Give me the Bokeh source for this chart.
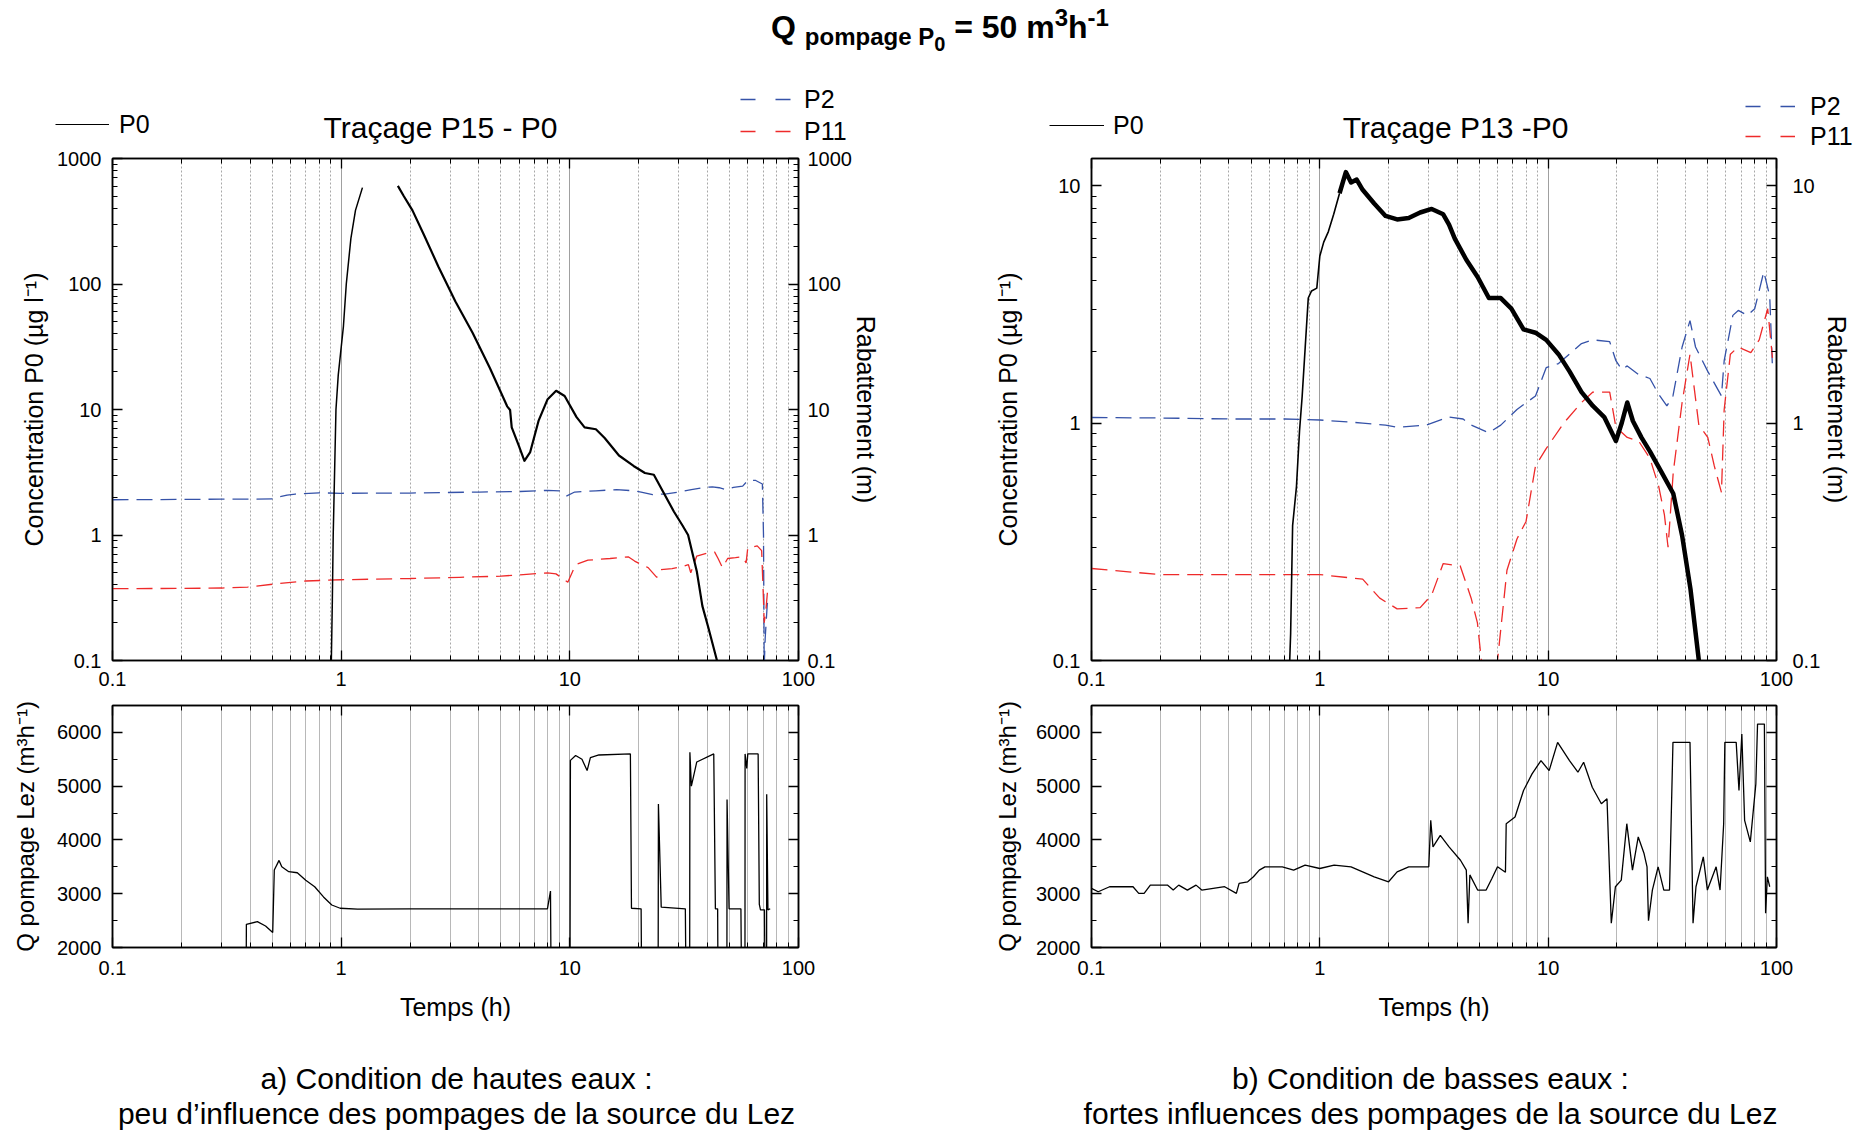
from bokeh.plotting import figure
from bokeh.models import (Range1d, LogAxis, LinearAxis, FixedTicker, CustomJSTickFormatter,
                          Label, Legend, LegendItem, Div, LogScale)
from bokeh.layouts import column, row
from bokeh.embed import file_html
from bokeh.resources import INLINE

nan = float("nan")
FONT = "Liberation Sans"

# ---------------- DATA ----------------
x_major = [0.1, 1, 10, 100]
x_minor = [0.2, 0.3, 0.4, 0.5, 0.6, 0.7, 0.8, 0.9, 2, 3, 4, 5, 6, 7, 8, 9, 20, 30, 40, 50, 60, 70, 80, 90]
conc_major_a = [0.1, 1, 10, 100, 1000]
conc_minor_a = [0.2, 0.3, 0.4, 0.5, 0.6, 0.7, 0.8, 0.9, 2, 3, 4, 5, 6, 7, 8, 9,
                20, 30, 40, 50, 60, 70, 80, 90, 200, 300, 400, 500, 600, 700, 800, 900]
conc_major_b = [0.1, 1, 10]
conc_minor_b = [0.2, 0.3, 0.4, 0.5, 0.6, 0.7, 0.8, 0.9, 2, 3, 4, 5, 6, 7, 8, 9]
q_major = [2000, 3000, 4000, 5000, 6000]
q_minor = [2500, 3500, 4500, 5500, 6500]

# a) hautes eaux - P0 concentration (ug/l)
t_p0_a = [0.905, 0.915, 0.923, 0.949, 0.971, 1.023, 1.053, 1.103, 1.155, 1.239, nan,
          1.77, 1.88, 2.05, 2.30, 2.66, 3.16, 3.76, 4.47, 5.32, 5.48, 5.57, 5.97, 6.33, 6.71,
          7.31, 7.98, 8.71, 9.49, 10.7, 11.6, 13.0, 14.2, 16.4, 19.0, 21.3, 23.3, 25.4, 28.5,
          31.1, 32.9, 35.9, 38.0, 40.3, 44.0, 45.0]
c_p0_a = [0.09, 0.3, 1.0, 10, 18.8, 46, 100, 231, 386, 586, nan,
          605, 500, 386, 247, 138, 72.6, 40.7, 21.4, 10.6, 9.9, 7.2, 5.2, 3.9, 4.58,
          8.2, 12.0, 14.1, 12.8, 8.7, 7.2, 6.96, 5.93, 4.3, 3.55, 3.12, 3.02, 2.26, 1.54,
          1.19, 1.0, 0.515, 0.271, 0.184, 0.1, 0.09]
# a) rabattement P2 (m)
t_p2_a = [0.1, 0.2, 0.3, 0.4, 0.5, 0.53, 0.58, 0.63, 0.8, 1.0, 2.0, 4.0, 6.0, 8.0, 9.0, 9.7,
          10.5, 13, 16, 19, 20.5, 23, 26, 30, 34, 38, 42, 45, 48, 52, 57, 60, 65, 69.5,
          70.3, 70.8, 71.5, 73.0, 74.0]
r_p2_a = [1.91, 1.92, 1.93, 1.93, 1.94, 2.0, 2.08, 2.12, 2.17, 2.15, 2.16, 2.2, 2.22, 2.27,
          2.25, 2.05, 2.2, 2.25, 2.3, 2.25, 2.2, 2.1, 2.12, 2.2, 2.3, 2.38, 2.42, 2.38, 2.3,
          2.4, 2.45, 2.72, 2.72, 2.55, 1.0, 0.09, 0.15, 0.28, 0.33]
# a) rabattement P11 (m)
t_p11_a = [0.1, 0.2, 0.3, 0.39, 0.53, 0.7, 1.0, 2.0, 3.3, 5.0, 8.0, 8.7, 9.3, 9.8, 10.6, 12,
           15, 18, 19.2, 20.6, 22, 24, 25, 28, 31, 33, 33.8, 35.9, 40, 43, 44.5, 46.5, 49,
           53, 57, 59, 60, 63, 66, 69, 70.3, 70.8, 72, 73.5]
r_p11_a = [0.374, 0.375, 0.378, 0.385, 0.41, 0.43, 0.44, 0.45, 0.46, 0.47, 0.50, 0.49, 0.45,
           0.42, 0.58, 0.63, 0.65, 0.67, 0.62, 0.58, 0.55, 0.46, 0.53, 0.54, 0.56, 0.58, 0.5,
           0.68, 0.72, 0.73, 0.65, 0.55, 0.65, 0.66, 0.67, 0.6, 0.79, 0.8, 0.82, 0.75, 0.3,
           0.2, 0.25, 0.39]
# a) Q pompage Lez (m3/h)
t_q_a = [0.383, 0.385, 0.43, 0.467, 0.502, 0.51, 0.535, 0.55, 0.59, 0.643, 0.70, 0.766,
         0.837, 0.91, 0.99, 1.18, 2.0, 4.0, 7.98, 8.23, 8.32, 10.0, 10.06, 10.6, 11.3, 11.9,
         12.3, 13.4, 18.4, 18.6, 20.5, 20.7, 24.3, 24.4, 25.1, 32.0, 32.4, 33.4, 33.5, 34.0,
         35.9, 42.6, 43.3, 44.3, 44.6, 48.6, 48.7, 49.7, 56.0, 56.7, 58.3, 58.4, 59.4, 60.0,
         66.6, 67.4, 68.2, 71.0, 71.8, 72.5, 72.6, 73.5, 75.2]
q_a = [0, 2430, 2480, 2400, 2280, 3440, 3620, 3500, 3410, 3390, 3250, 3130,
       2940, 2790, 2730, 2715, 2720, 2720, 2720, 3050, 0, 0, 5480, 5570, 5500, 5290,
       5530, 5580, 5600, 2730, 2720, 0, 0, 4670, 2750, 2720, 0, 0, 5630, 5000,
       5450, 5600, 2720, 2720, 0, 0, 4750, 2720, 2720, 0, 0, 5600, 5330, 5600,
       5600, 2800, 2700, 2700, 0, 0, 4850, 2700, 2720]

# b) basses eaux - P0 concentration (ug/l)
t_p0_b = [0.733, 0.738, 0.745, 0.76, 0.79, 0.815, 0.837, 0.863, 0.89, 0.92, 0.97, 1.0, 1.04,
          1.09, 1.15, 1.22, 1.30, 1.37, 1.45, 1.54, 1.73, 1.94, 2.18, 2.45, 2.75, 3.09, 3.47,
          3.68, 3.9, 4.38, 4.91, 5.5, 6.2, 6.9, 7.8, 8.8, 9.8, 11.1, 12.4, 14.0, 15.7, 17.6,
          19.8, 21.0, 22.2, 23.5, 25.6, 27.9, 31.4, 35.3, 38.6, 42.0, 45.7, 46.5]
c_p0_b = [0.09, 0.1, 0.13, 0.37, 0.54, 0.93, 1.30, 2.09, 3.36, 3.6, 3.7, 5.05, 5.78,
          6.4, 7.57, 9.28, 11.4, 10.3, 10.6, 9.6, 8.4, 7.45, 7.2, 7.3, 7.7, 7.97, 7.57,
          6.85, 5.98, 4.87, 4.12, 3.36, 3.36, 3.03, 2.48, 2.4, 2.24, 1.95, 1.65, 1.35, 1.18, 1.06,
          0.84, 1.0, 1.22, 1.02, 0.87, 0.76, 0.62, 0.505, 0.336, 0.2, 0.1, 0.09]
# b) rabattement P2 (m)
t_p2_b = [0.1, 0.2, 0.4, 0.7, 1.0, 1.54, 1.94, 2.18, 2.92, 3.68, 4.24, 4.6, 5.5, 6.2, 7.3,
          8.8, 9.8, 11.1, 12.4, 14.0, 15.7, 18.6, 19.8, 21.0, 22.2, 24.9, 27.9, 30.5, 33.1,
          35.2, 38.6, 41.8, 44.2, 50, 57.4, 59, 64.4, 68, 74.5, 80.3, 88, 93.4, 96]
r_p2_b = [1.055, 1.05, 1.04, 1.04, 1.03, 1.0, 0.98, 0.96, 0.98, 1.06, 1.04, 0.98, 0.91, 0.98,
          1.14, 1.30, 1.71, 1.78, 1.95, 2.16, 2.24, 2.2, 1.83, 1.68, 1.74, 1.6, 1.54, 1.32,
          1.18, 1.30, 2.09, 2.7, 2.09, 1.65, 1.30, 1.83, 2.84, 2.98, 2.84, 3.03, 4.34, 3.42, 1.71]
# b) rabattement P11 (m)
t_p11_b = [0.1, 0.2, 0.4, 0.7, 1.0, 1.54, 1.83, 2.18, 2.75, 3.09, 3.47, 4.12, 4.6, 4.9, 5.1,
           5.3, 5.8, 6.0, 6.6, 7.3, 8.0, 8.8, 9.8, 11.7, 14.0, 15.7, 18.6, 19.8, 22.2, 24.9,
           27.9, 30.5, 32.3, 33.5, 35.3, 38.6, 41.8, 45.7, 50, 53.4, 57.4, 59, 62.8, 68,
           77.2, 84, 91.5, 96]
r_p11_b = [0.244, 0.23, 0.23, 0.23, 0.23, 0.22, 0.183, 0.165, 0.167, 0.189, 0.256, 0.25,
           0.183, 0.144, 0.1, 0.08, 0.08, 0.1, 0.24, 0.325, 0.385, 0.66, 0.78, 1.0, 1.22,
           1.35, 1.35, 0.96, 0.87, 0.84, 0.71, 0.54, 0.41, 0.30, 0.62, 1.22, 1.95, 0.98,
           0.87, 0.66, 0.51, 1.14, 1.95, 2.09, 1.98, 2.24, 3.03, 1.88]
# b) Q pompage Lez (m3/h)
t_q_b = [0.1, 0.107, 0.120, 0.152, 0.161, 0.170, 0.181, 0.215, 0.228, 0.241, 0.263, 0.287,
         0.304, 0.383, 0.431, 0.443, 0.483, 0.512, 0.543, 0.575, 0.685, 0.768, 0.862, 1.0,
         1.155, 1.37, 1.54, 1.73, 2.0, 2.18, 2.45, 3.0, 3.06, 3.13, 3.37, 3.68, 4.13, 4.38,
         4.46, 4.54, 4.91, 5.35, 5.67, 6.0, 6.5, 6.55, 7.16, 7.8, 8.5, 9.3, 10.1, 11.0, 12.4,
         13.5, 14.3, 15.6, 17.1, 18.1, 18.9, 19.7, 20.9, 22.1, 23.4, 24.8, 26.3, 27.1, 27.5,
         28.6, 30.3, 32.1, 34.0, 35.2, 41.8, 43.1, 44.4, 47.8, 49.8, 54.4, 56.6, 58.7, 59.4,
         66.6, 68.5, 70.5, 72.5, 76.8, 81.2, 82.6, 88.5, 89.6, 91.2, 93.4]
q_b = [3099, 3037, 3130, 3130, 3006, 3006, 3160, 3160, 3068, 3160, 3068, 3160,
       3068, 3130, 3006, 3191, 3222, 3315, 3438, 3500, 3500, 3438, 3531, 3469,
       3531, 3500, 3407, 3315, 3222, 3407, 3500, 3500, 4364, 3870, 4086, 3870, 3623, 3438,
       2450, 3350, 3068, 3068, 3284, 3500, 3400, 4302, 4426, 4920, 5228, 5475, 5290, 5815, 5475,
       5259, 5444, 4981, 4673, 4765, 2450, 3130, 3253, 4302, 3438, 4056, 3747, 3500, 2500,
       3068, 3500, 3068, 3068, 5815, 5815, 2450, 3130, 3685, 3068, 3500, 3068, 4302, 5815,
       5815, 4920, 5970, 4364, 3963, 5043, 6154, 6154, 2636, 3315, 3130]

subtitles = ["Traçage P15 - P0", "Traçage P13 -P0"]
captions_a = ["a) Condition de hautes eaux :", "peu d’influence des pompages de la source du Lez"]
captions_b = ["b) Condition de basses eaux :", "fortes influences des pompages de la source du Lez"]

BLUE = "#3552a8"
RED = "#ee2a2a"
TOTAL_W = 1856


def fmt(hidden=False):
    return CustomJSTickFormatter(code="return '';" if hidden else "return String(tick);")


def style_axis(ax, standoff=10, label_standoff=8, label_size="25px"):
    ax.axis_line_color = "black"
    ax.axis_line_width = 1.5
    ax.major_tick_in = 10
    ax.major_tick_out = 0
    ax.minor_tick_in = 5
    ax.minor_tick_out = 0
    ax.major_tick_line_color = "black"
    ax.minor_tick_line_color = "black"
    ax.major_tick_line_width = 1.3
    ax.minor_tick_line_width = 1.0
    ax.major_label_text_font = FONT
    ax.major_label_text_font_size = "20px"
    ax.major_label_text_color = "black"
    ax.major_label_standoff = standoff
    ax.axis_label_text_font = FONT
    ax.axis_label_text_font_size = label_size
    ax.axis_label_text_font_style = "normal"
    ax.axis_label_text_color = "black"
    ax.axis_label_standoff = label_standoff


def text_fig(height):
    p = figure(width=TOTAL_W, height=height, x_range=Range1d(0, TOTAL_W),
               y_range=Range1d(height, 0), min_border=0,
               x_axis_location=None, y_axis_location=None,
               output_backend="svg", toolbar_location=None)
    p.grid.visible = False
    p.outline_line_color = None
    return p


def make_top(t0, c0, t2, r2, t11, r11, ymax, ymaj, ymin, width, left_border, right_border,
             lstand, rtick, rstand, split, w_rise, w_main):
    xt = FixedTicker(ticks=x_major, minor_ticks=x_minor)
    yt = FixedTicker(ticks=ymaj, minor_ticks=ymin)
    p = figure(x_axis_type="log", y_axis_type="log",
               x_range=Range1d(0.1, 100), y_range=Range1d(0.1, ymax),
               width=width, height=552,
               min_border_left=left_border, min_border_right=right_border,
               min_border_top=10, min_border_bottom=40,
               output_backend="svg", toolbar_location=None)
    p.outline_line_color = "black"
    p.outline_line_width = 1.5
    p.extra_y_ranges = {"rab": Range1d(0.1, ymax)}
    p.extra_y_scales = {"rab": LogScale()}

    p.xaxis.ticker = xt
    p.xaxis.formatter = fmt()
    p.yaxis.ticker = yt
    p.yaxis.formatter = fmt()
    p.yaxis.axis_label = "Concentration P0 (µg l⁻¹)"
    style_axis(p.xaxis[0], standoff=11)
    style_axis(p.yaxis[0], standoff=11, label_standoff=lstand)

    top = LogAxis(ticker=FixedTicker(ticks=x_major, minor_ticks=x_minor), formatter=fmt(True))
    style_axis(top, standoff=0)
    p.add_layout(top, "above")
    right = LogAxis(y_range_name="rab", ticker=FixedTicker(ticks=ymaj, minor_ticks=ymin),
                    formatter=fmt(), axis_label="Rabattement (m)")
    style_axis(right, standoff=rtick, label_standoff=rstand)
    p.add_layout(right, "right")

    p.xgrid.ticker = xt
    p.xgrid.grid_line_color = "#a0a0a0"
    p.xgrid.grid_line_width = 1
    p.xgrid.minor_grid_line_color = "#a8a8a8"
    p.xgrid.minor_grid_line_dash = "2 2"
    p.xgrid.minor_grid_line_width = 1
    p.ygrid.visible = False

    p.line(t2, r2, y_range_name="rab", line_color=BLUE, line_width=1.3, line_dash="16 8")
    p.line(t11, r11, y_range_name="rab", line_color=RED, line_width=1.3, line_dash="16 8")
    # P0: thin during the arrival, thicker (noisy record) afterwards
    p.line(t0[:split + 1], c0[:split + 1], line_color="black", line_width=w_rise)
    p.line(t0[split:], c0[split:], line_color="black", line_width=w_main, line_join="round")
    return p


def make_bottom(tq, q, width, left_border, right_border, lstand):
    xt = FixedTicker(ticks=x_major, minor_ticks=x_minor)
    yt = FixedTicker(ticks=q_major, minor_ticks=q_minor)
    p = figure(x_axis_type="log", x_range=Range1d(0.1, 100), y_range=Range1d(2000, 6500),
               width=width, height=330,
               min_border_left=left_border, min_border_right=right_border,
               min_border_top=5, min_border_bottom=83,
               output_backend="svg", toolbar_location=None)
    p.outline_line_color = "black"
    p.outline_line_width = 1.5
    p.xaxis.ticker = xt
    p.xaxis.formatter = fmt()
    p.xaxis.axis_label = "Temps (h)"
    p.yaxis.ticker = yt
    p.yaxis.formatter = fmt()
    p.yaxis.axis_label = "Q pompage Lez (m³h⁻¹)"
    style_axis(p.xaxis[0], standoff=13, label_standoff=15)
    style_axis(p.yaxis[0], standoff=11, label_standoff=lstand, label_size="24px")
    top = LogAxis(ticker=FixedTicker(ticks=x_major, minor_ticks=x_minor), formatter=fmt(True))
    style_axis(top, standoff=0)
    p.add_layout(top, "above")
    right = LinearAxis(ticker=FixedTicker(ticks=q_major, minor_ticks=q_minor), formatter=fmt(True))
    style_axis(right, standoff=0)
    p.add_layout(right, "right")

    p.xgrid.ticker = xt
    p.xgrid.grid_line_color = "#a0a0a0"
    p.xgrid.minor_grid_line_color = "#b8b8b8"
    p.xgrid.minor_grid_line_width = 1
    p.ygrid.visible = False

    p.line(tq, q, line_color="black", line_width=1.3)
    return p


# ---- header: legends and panel titles ----
header = text_fig(90)
# legend proxies (a single point draws nothing in the header itself)
g0 = header.line([-10], [-10], line_color="black", line_width=1.2)
g2 = header.line([-10], [-10], line_color=BLUE, line_width=1.3, line_dash="15 20")
g11 = header.line([-10], [-10], line_color=RED, line_width=1.3, line_dash="15 20")
common = dict(border_line_color=None, background_fill_alpha=0, padding=0, margin=0,
              label_text_font=FONT, label_text_font_size="25px", label_text_color="black",
              glyph_height=30, label_height=30)
for loc, gw, st in (((55, 9), 54, 10), ((1049, 8), 55, 9)):
    header.add_layout(Legend(items=[LegendItem(label="P0", renderers=[g0])], location=loc,
                             glyph_width=gw, label_standoff=st, **common))
for loc, gw, st, sp in (((740, 2), 51, 13, 2), ((1745, -3), 50, 15, 0)):
    header.add_layout(Legend(items=[LegendItem(label="P2", renderers=[g2]),
                                    LegendItem(label="P11", renderers=[g11])],
                             location=loc, glyph_width=gw, label_standoff=st, spacing=sp,
                             **common))
for txt, xx in zip(subtitles, (440, 1455)):
    header.add_layout(Label(x=xx, y=69, text=txt, text_font=FONT, text_font_size="30px",
                            text_align="center", text_baseline="middle", text_color="black"))

# ---- footer: captions ----
footer = text_fig(102)
for caps, xx in ((captions_a, 456), (captions_b, 1430)):
    for txt, yy in zip(caps, (48, 83)):
        footer.add_layout(Label(x=xx, y=yy, text=txt, text_font=FONT, text_font_size="30px",
                                text_align="center", text_baseline="middle", text_color="black"))

tl = make_top(t_p0_a, c_p0_a, t_p2_a, r_p2_a, t_p11_a, r_p11_a, 1000,
              conc_major_a, conc_minor_a, 930, 112, 132, 6, 9, -3, 10, 1.5, 2.2)
tr = make_top(t_p0_b, c_p0_b, t_p2_b, r_p2_b, t_p11_b, r_p11_b, 13,
              conc_major_b, conc_minor_b, 926, 161, 80, 28, 16, 0, 15, 1.6, 4.5)
bl = make_bottom(t_q_a, q_a, 930, 112, 132, 15)
br = make_bottom(t_q_b, q_b, 926, 161, 80, 12)

title = Div(text=('<div style="width:1856px;height:58px;box-sizing:border-box;'
                  'font-family:\'Liberation Sans\',Arial,sans-serif;'
                  'font-size:32px;font-weight:bold;text-align:center;line-height:36px;'
                  'padding-left:24px;padding-top:0px;color:black;">'
                  'Q <sub style="font-size:24px">pompage P<sub>0</sub></sub> = 50 m'
                  '<sup style="font-size:24px">3</sup>h<sup style="font-size:24px">-1</sup></div>'),
            width=TOTAL_W, height=58, margin=0)

layout = column(title, header,
                row(column(tl, bl, spacing=0), column(tr, br, spacing=0), spacing=0),
                footer, spacing=0)

with open("out.html", "w") as f:
    f.write(file_html(layout, INLINE))
